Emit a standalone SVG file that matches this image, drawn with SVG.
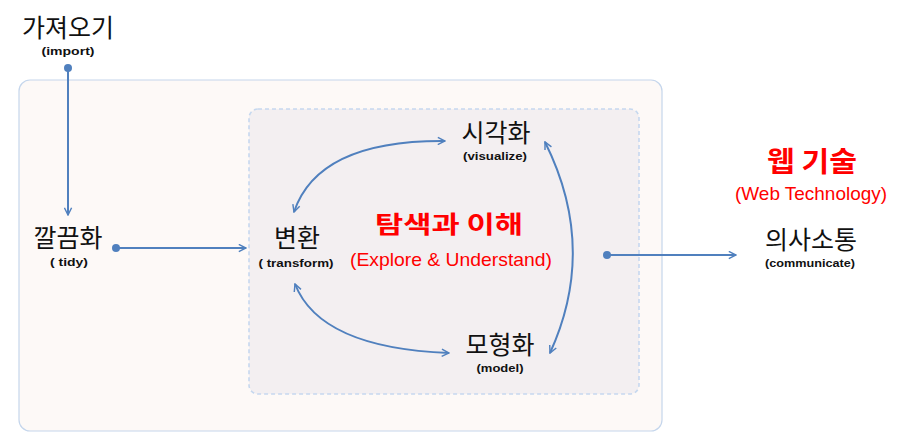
<svg xmlns="http://www.w3.org/2000/svg" width="901" height="432" viewBox="0 0 901 432">
<style>
.t{font-family:"Noto Sans CJK KR","Noto Sans",sans-serif;font-size:25px;fill:#111;text-anchor:middle}
.s{font-family:"Liberation Sans","Noto Sans",sans-serif;font-size:11px;font-weight:bold;fill:#111;text-anchor:middle}
.r{font-family:"Noto Sans CJK KR",sans-serif;font-weight:bold;fill:#f00;text-anchor:middle}
.re{font-family:"Liberation Sans","Noto Sans",sans-serif;fill:#f00;text-anchor:middle}
.c{fill:none;stroke:#5080be;stroke-width:2}
.d{fill:#5080be}
</style>
<defs>
<marker id="ah" viewBox="0 0 10 10" refX="9" refY="5" markerWidth="9" markerHeight="9" markerUnits="userSpaceOnUse" orient="auto-start-reverse">
<path d="M1,1 L9,5 L1,9" fill="none" stroke="#5080be" stroke-width="1.6"/>
</marker>
</defs>
<rect x="0" y="0" width="901" height="432" fill="#fff"/>
<rect id="outer" x="19" y="80" width="643" height="351" rx="11" fill="#fdf9f7" stroke="#c5d6ec" stroke-width="1.2"/>
<rect id="inner" x="249" y="109" width="390" height="285" rx="9" fill="#f3eff1" stroke="#c6d8ef" stroke-width="1.6" stroke-dasharray="4,3"/>
<g id="connectors">
<line class="c" x1="68" y1="68" x2="68" y2="215" marker-end="url(#ah)"/>
<circle class="d" cx="68" cy="68" r="4"/>
<line class="c" x1="116" y1="248" x2="246" y2="248" marker-end="url(#ah)"/>
<circle class="d" cx="116" cy="248" r="4"/>
<line class="c" x1="607" y1="255" x2="736" y2="255" marker-end="url(#ah)"/>
<circle class="d" cx="607" cy="255" r="4"/>
<path class="c" d="M294,212 Q318,140 445,141" marker-start="url(#ah)" marker-end="url(#ah)"/>
<path class="c" d="M295,284 Q320,348 449,353" marker-start="url(#ah)" marker-end="url(#ah)"/>
<path class="c" d="M545,142 Q598,248 550,353" marker-start="url(#ah)" marker-end="url(#ah)"/>
</g>
<g id="import"><text class="t" x="68" y="37">가져오기</text><text class="s" x="68" y="55" textLength="53" lengthAdjust="spacingAndGlyphs">(import)</text></g>
<g id="tidy"><text class="t" x="68" y="247">깔끔화</text><text class="s" x="69" y="266" textLength="38" lengthAdjust="spacingAndGlyphs">( tidy)</text></g>
<g id="transform"><text class="t" x="297" y="247">변환</text><text class="s" x="296" y="267" textLength="75" lengthAdjust="spacingAndGlyphs">( transform)</text></g>
<g id="visualize"><text class="t" x="496" y="142">시각화</text><text class="s" x="495" y="160" textLength="64" lengthAdjust="spacingAndGlyphs">(visualize)</text></g>
<g id="model"><text class="t" x="500" y="354">모형화</text><text class="s" x="500" y="372" textLength="47" lengthAdjust="spacingAndGlyphs">(model)</text></g>
<g id="communicate"><text class="t" x="811" y="249">의사소통</text><text class="s" x="810" y="267" textLength="90" lengthAdjust="spacingAndGlyphs">(communicate)</text></g>
<g id="explore"><text class="r" x="449" y="233" font-size="24" textLength="148" lengthAdjust="spacingAndGlyphs">탐색과 이해</text><text class="re" x="451" y="266" font-size="19" textLength="202" lengthAdjust="spacingAndGlyphs">(Explore &amp; Understand)</text></g>
<g id="web"><text class="r" x="812" y="172" font-size="28" textLength="90" lengthAdjust="spacingAndGlyphs">웹 기술</text><text class="re" x="811" y="200" font-size="19" textLength="152" lengthAdjust="spacingAndGlyphs">(Web Technology)</text></g>
</svg>
